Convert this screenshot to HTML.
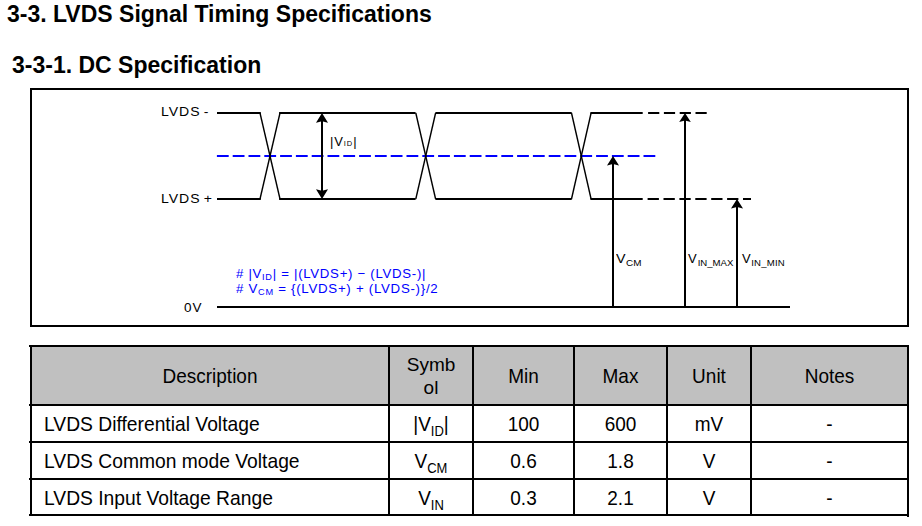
<!DOCTYPE html>
<html><head><meta charset="utf-8">
<style>
html,body{margin:0;padding:0;background:#fff;}
body{width:922px;height:526px;position:relative;overflow:hidden;font-family:"Liberation Sans",sans-serif;color:#000;}
.t{position:absolute;white-space:pre;line-height:1;}
.h1{font-size:23px;font-weight:bold;}
.d{font-size:13px;}
.b{color:#0000ff;}
.c{position:absolute;white-space:pre;line-height:1;font-size:19px;text-align:center;transform:scaleY(1.07);transform-origin:50% 4px;}
.r{position:absolute;white-space:pre;line-height:1;font-size:19px;left:44px;transform:scale(1.014,1.07);transform-origin:0 4px;}
sub{font-size:9px;vertical-align:baseline;position:relative;}
svg{position:absolute;left:0;top:0;}
</style></head>
<body>
<div class="t h1" style="left:7px;top:3px">3-3. LVDS Signal Timing Specifications</div>
<div class="t h1" style="left:12px;top:54px">3-3-1. DC Specification</div>

<svg width="922" height="526" viewBox="0 0 922 526">
  <!-- diagram box -->
  <rect x="31" y="89" width="877" height="237" fill="none" stroke="#000" stroke-width="2"/>
  <!-- waveform horizontals -->
  <g fill="#000">
    <rect x="217" y="112" width="43.8" height="2"/>
    <rect x="279.1" y="112" width="136.5" height="2"/>
    <rect x="435.4" y="112" width="136.3" height="2"/>
    <rect x="590.4" y="112" width="52.3" height="2"/>
    <rect x="217" y="198" width="43.8" height="2"/>
    <rect x="279.1" y="198" width="136.5" height="2"/>
    <rect x="435.4" y="198" width="136.3" height="2"/>
    <rect x="590.4" y="198" width="52.3" height="2"/>
    <rect x="217" y="306" width="573" height="2"/>
  </g>
  <!-- blue dashed -->
  <line x1="216.9" y1="156" x2="655.3" y2="156" stroke="#0000ff" stroke-width="2" stroke-dasharray="11.8 4"/>
  <g stroke="#000" stroke-width="1.4" fill="none">
    <line x1="260" y1="113" x2="280" y2="199"/>
    <line x1="280" y1="113" x2="260" y2="199"/>
    <line x1="415.8" y1="113" x2="435.6" y2="199"/>
    <line x1="435.6" y1="113" x2="415.8" y2="199"/>
    <line x1="571.5" y1="113" x2="591.1" y2="199"/>
    <line x1="591.1" y1="113" x2="571.5" y2="199"/>
  </g>
  <!-- black dashed extensions -->
  <line x1="648.1" y1="113" x2="707.1" y2="113" stroke="#000" stroke-width="2" stroke-dasharray="11.2 4.6"/>
  <line x1="647.6" y1="199" x2="751" y2="199" stroke="#000" stroke-width="2" stroke-dasharray="11.3 4.6"/>
  <!-- arrows -->
  <g fill="#000">
    <rect x="321" y="120" width="2" height="71"/>
    <path d="M322,113 L316,122.8 L322,121.2 L328,122.8 Z"/>
    <path d="M322,199 L316,189.2 L322,190.8 L328,189.2 Z"/>
    <rect x="612" y="163" width="2" height="144"/>
    <path d="M613,156 L607,165.6 L613,164 L619,165.6 Z"/>
    <rect x="684" y="119" width="2" height="188"/>
    <path d="M685,113 L679.2,122 L685,120.4 L690.8,122 Z"/>
    <rect x="736" y="206" width="2" height="101"/>
    <path d="M737,199 L731,208.5 L737,207 L743,208.5 Z"/>
  </g>
  <!-- table -->
  <rect x="32" y="347" width="875" height="57" fill="#c0c0c0"/>
  <g fill="#000">
    <rect x="29" y="345" width="880" height="2"/>
    <rect x="29" y="404" width="880" height="2"/>
    <rect x="29" y="441" width="880" height="2"/>
    <rect x="29" y="478" width="880" height="2"/>
    <rect x="29" y="514" width="880" height="2"/>
    <rect x="30" y="345" width="2" height="171"/>
    <rect x="388" y="345" width="2" height="171"/>
    <rect x="472" y="345" width="2" height="171"/>
    <rect x="573" y="345" width="2" height="171"/>
    <rect x="666" y="345" width="2" height="171"/>
    <rect x="750" y="345" width="2" height="171"/>
    <rect x="907" y="345" width="2" height="172"/>
  </g>
</svg>

<!-- diagram labels -->
<div class="t d" style="left:161px;top:105px;letter-spacing:0.9px;word-spacing:-1.5px;transform:scaleX(1.08);transform-origin:0 0">LVDS -</div>
<div class="t d" style="left:161px;top:192px;letter-spacing:0.9px;word-spacing:-1.5px;transform:scaleX(1.08);transform-origin:0 0">LVDS +</div>
<div class="t d" style="left:330px;top:135px;letter-spacing:0.8px">|V<sub style="font-size:7.5px;letter-spacing:1px">ID</sub>|</div>
<div class="t d" style="left:184px;top:301px;font-size:13.5px;letter-spacing:1px">0V</div>
<div class="t d b" style="left:236px;top:267px;letter-spacing:0.7px;transform:scaleX(1.016);transform-origin:0 0">#&nbsp;|V<sub style="top:2px">ID</sub>| = |(LVDS+) − (LVDS-)|</div>
<div class="t d b" style="left:236px;top:282px;letter-spacing:0.7px;transform:scaleX(1.021);transform-origin:0 0">#&nbsp;V<sub style="top:2px">CM</sub> = {(LVDS+) + (LVDS-)}/2</div>
<div class="t d" style="left:616px;top:252px;transform:scaleX(1.1);transform-origin:0 0">V<sub style="top:2.5px;margin-left:0.5px">CM</sub></div>
<div class="t d" style="left:688px;top:252px">V<sub style="font-size:9.6px;top:2.5px;margin-left:1px">IN_MAX</sub></div>
<div class="t d" style="left:742px;top:252px">V<sub style="font-size:9.6px;top:2.5px;margin-left:0.5px;letter-spacing:0.2px">IN_MIN</sub></div>

<!-- table text -->
<div class="c" style="left:32px;width:356px;top:366px">Description</div>
<div class="c" style="left:390px;width:82px;top:353px;line-height:23px;transform:none">Symb<br>ol</div>
<div class="c" style="left:474px;width:99px;top:366px">Min</div>
<div class="c" style="left:575px;width:91px;top:366px">Max</div>
<div class="c" style="left:668px;width:82px;top:366px">Unit</div>
<div class="c" style="left:752px;width:155px;top:366px">Notes</div>

<div class="r" style="top:414px">LVDS Differential Voltage</div>
<div class="r" style="top:451px">LVDS Common mode Voltage</div>
<div class="r" style="top:488px">LVDS Input Voltage Range</div>

<div class="c" style="left:390px;width:82px;top:414px">|V<sub style="font-size:13px;top:4.5px">ID</sub>|</div>
<div class="c" style="left:390px;width:82px;top:451px">V<sub style="font-size:13px;top:4.5px">CM</sub></div>
<div class="c" style="left:390px;width:82px;top:488px">V<sub style="font-size:13px;top:4.5px">IN</sub></div>

<div class="c" style="left:474px;width:99px;top:414px">100</div>
<div class="c" style="left:474px;width:99px;top:451px">0.6</div>
<div class="c" style="left:474px;width:99px;top:488px">0.3</div>
<div class="c" style="left:575px;width:91px;top:414px">600</div>
<div class="c" style="left:575px;width:91px;top:451px">1.8</div>
<div class="c" style="left:575px;width:91px;top:488px">2.1</div>
<div class="c" style="left:668px;width:82px;top:414px">mV</div>
<div class="c" style="left:668px;width:82px;top:451px">V</div>
<div class="c" style="left:668px;width:82px;top:488px">V</div>
<div class="c" style="left:752px;width:155px;top:414px">-</div>
<div class="c" style="left:752px;width:155px;top:451px">-</div>
<div class="c" style="left:752px;width:155px;top:488px">-</div>
</body></html>
